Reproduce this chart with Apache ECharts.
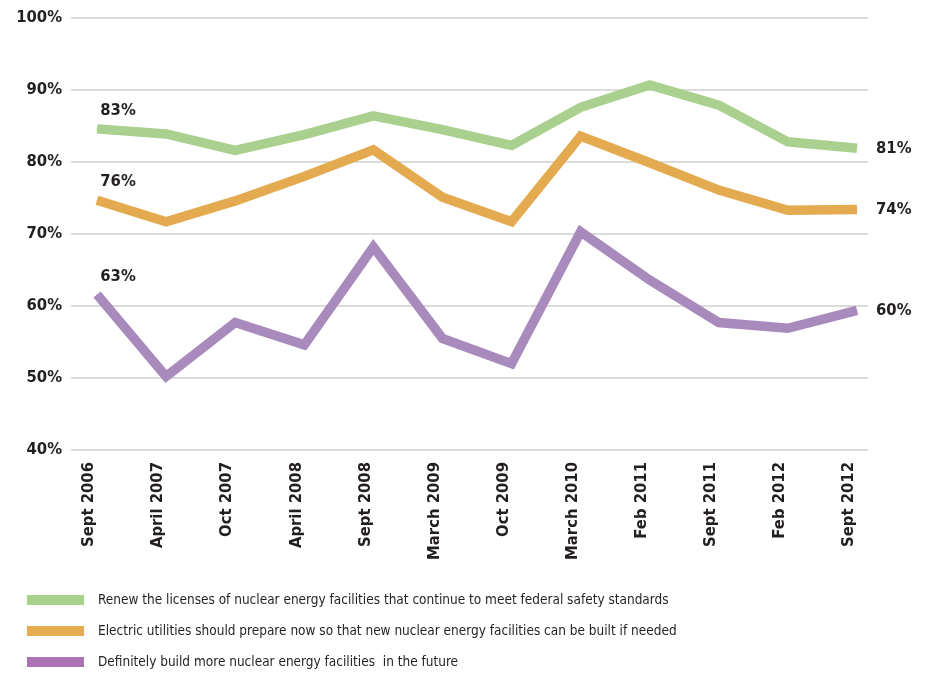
<!DOCTYPE html>
<html>
<head>
<meta charset="utf-8">
<script src="https://cdn.jsdelivr.net/npm/echarts@6/dist/echarts.min.js"></script>
<style>
html,body{margin:0;padding:0;background:#fff;}
#chart{width:932px;height:674px;}
</style>
</head>
<body>
<div id="chart"></div>
<script>
const categories = ['Sept 2006','April 2007','Oct 2007','April 2008','Sept 2008','March 2009','Oct 2009','March 2010','Feb 2011','Sept 2011','Feb 2012','Sept 2012'];
const renewName = 'Renew the licenses of nuclear energy facilities that continue to meet federal safety standards';
const prepareName = 'Electric utilities should prepare now so that new nuclear energy facilities can be built if needed';
const buildName = 'Definitely build more nuclear energy facilities  in the future';
const renew = [84.6,83.9,81.6,83.8,86.4,84.5,82.3,87.6,90.7,87.9,82.8,81.9];
const prepare = [74.7,71.7,74.6,78.0,81.7,75.1,71.7,83.6,79.9,76.1,73.3,73.4];
const build = [61.6,50.2,57.7,54.6,68.2,55.5,52.0,70.3,63.6,57.7,56.9,59.4];
const startLabels = ['83%','76%','63%'];
const endLabels = ['81%','74%','60%'];
const yTicks = [40,50,60,70,80,90,100];

const FONT = "'DejaVu Sans Condensed','DejaVu Sans',sans-serif";
const TXT = '#231f20';
const lineColors = ['#a9d08e','#e4aa4f','#a98abc'];
const keyColors = ['#a9d18e','#e6ac50','#ab72b4'];

function makeSeries(name, values, idx) {
  return {
    name: name,
    type: 'line',
    xAxisIndex: 0,
    yAxisIndex: 0,
    symbol: 'circle',
    symbolSize: 1,
    showSymbol: true,
    silent: true,
    lineStyle: {color: lineColors[idx], width: 9.5, join: 'miter', cap: 'butt'},
    itemStyle: {color: keyColors[idx]},
    data: values.map((v, i) => i === 0 ? {
      value: v,
      label: {show: true, formatter: startLabels[idx], position: 'top', distance: 9, offset: [21, 0],
              fontFamily: FONT, fontWeight: 'bold', fontSize: 16.5, color: TXT}
    } : v),
    endLabel: {show: true, formatter: endLabels[idx], distance: 19,
               fontFamily: FONT, fontWeight: 'bold', fontSize: 16.5, color: TXT},
    animation: false
  };
}

const chart = echarts.init(document.getElementById('chart'), null, {renderer: 'canvas'});
chart.setOption({
  animation: false,
  textStyle: {fontFamily: FONT},
  grid: [
    {left: 97, right: 75, top: 18, bottom: 224},
    {left: 71, right: 64, top: 18, bottom: 224}
  ],
  xAxis: [
    {type: 'category', gridIndex: 0, data: categories, boundaryGap: false,
     axisLine: {show: false}, axisTick: {show: false}, splitLine: {show: false},
     axisLabel: {rotate: 90, margin: 12, interval: 0, color: TXT,
                 formatter: v => '{a|' + v + '}\n{b| }',
                 rich: {
                   a: {fontFamily: FONT, fontWeight: 'bold', fontSize: 16.5, lineHeight: 20, color: TXT},
                   b: {fontSize: 4, lineHeight: 16}
                 }}},
    {type: 'category', gridIndex: 1, data: categories, show: false}
  ],
  yAxis: [
    {type: 'value', gridIndex: 0, min: 40, max: 100, interval: 10, show: false, splitLine: {show: false}},
    {type: 'value', gridIndex: 1, min: 40, max: 100, interval: 10,
     axisLine: {show: false}, axisTick: {show: false},
     splitLine: {show: true, lineStyle: {color: '#cfcfcf', width: 1.5}},
     axisLabel: {margin: 9, formatter: v => yTicks.indexOf(v) >= 0 ? v + '%' : '', fontFamily: FONT, fontWeight: 'bold', fontSize: 16.5, color: TXT}}
  ],
  legend: {
    orient: 'vertical', left: 27, top: 592, height: 90, padding: 0,
    itemWidth: 57, itemHeight: 10, itemGap: 15,
    icon: 'rect', selectedMode: false,
    textStyle: {fontFamily: FONT, fontSize: 13.5, lineHeight: 16, color: TXT, padding: [0, 0, 0, 9]},
    data: [renewName, prepareName, buildName]
  },
  series: [
    makeSeries(renewName, renew, 0),
    makeSeries(prepareName, prepare, 1),
    makeSeries(buildName, build, 2)
  ]
});
</script>
</body>
</html>
